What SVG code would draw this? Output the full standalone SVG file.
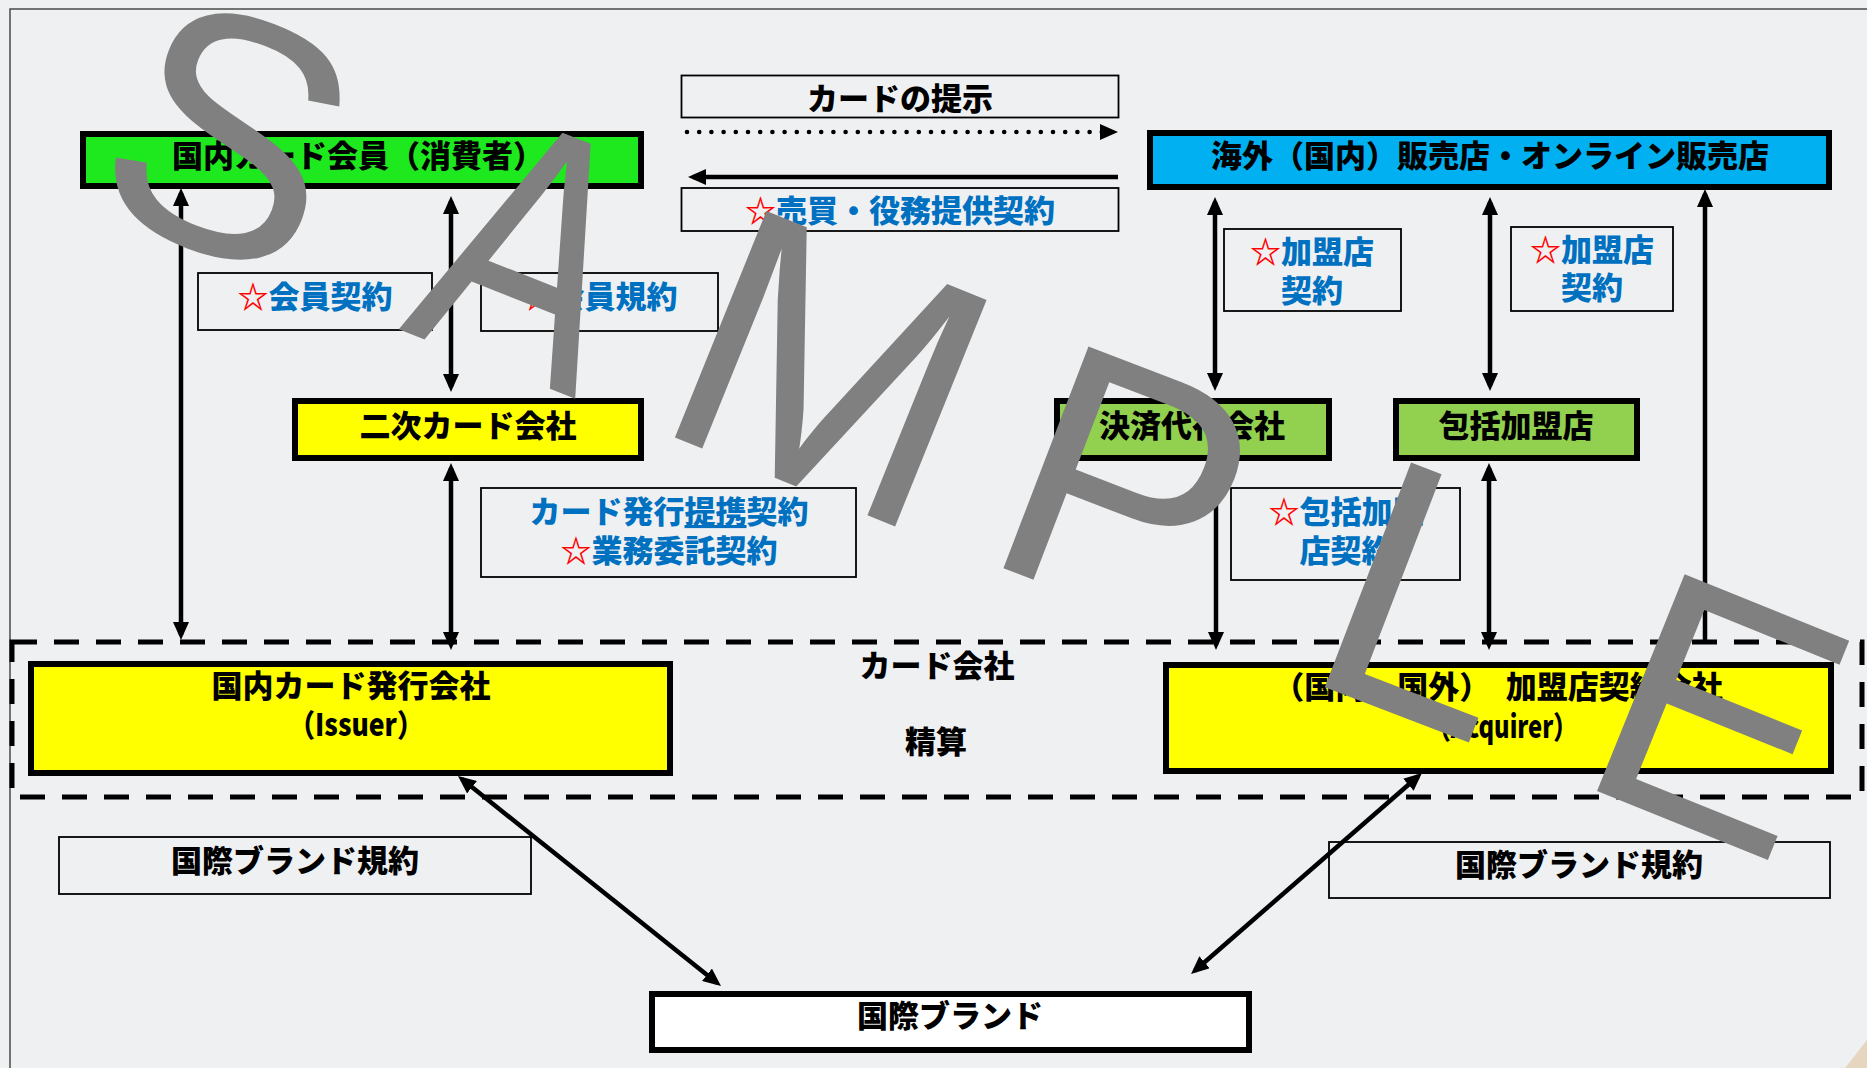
<svg xmlns="http://www.w3.org/2000/svg" width="1867" height="1068" viewBox="0 0 1867 1068">
<defs>
<style>
.t{font-family:"Noto Sans CJK JP","Noto Sans CJK SC",sans-serif;font-weight:900;font-size:31px;text-anchor:middle;fill:#000}
.b{fill:#0070C0}
.r{fill:#FF0000}
.box{stroke:#000;stroke-width:6}
.thin{fill:none;stroke:#000;stroke-width:1.8}
.ln{stroke:#000;stroke-width:4.5;fill:none}
.wm{font-family:"Liberation Sans",Arial,sans-serif;font-size:340px;fill:#808080;text-anchor:middle}
.ws{text-anchor:start}
</style>
<marker id="ah" viewBox="0 0 18 16" refX="13" refY="8" markerWidth="18" markerHeight="16" markerUnits="userSpaceOnUse" orient="auto-start-reverse">
<path d="M0,0 L18,8 L0,16 Z" fill="#000"/>
</marker>
</defs>
<rect x="0" y="0" width="1867" height="1068" fill="#EFF0F2"/>
<path d="M10,1068 V9 H1867" fill="none" stroke="#4a4a4a" stroke-width="1.5"/>
<polygon points="1845,1068 1867,1040 1867,1068" fill="#E6D5BF"/>

<g id="card-company-area">
<rect x="12" y="642" width="1850" height="155" fill="none" stroke="#000" stroke-width="5" stroke-dasharray="25 17"/>
<text class="t" x="937" y="677">カード会社</text>
<text class="t" x="936" y="753">精算</text>
</g>

<g id="consumer">
<rect class="box" x="83" y="134" width="558" height="52" fill="#1EE81E"/>
<text class="t" x="358" y="167">国内カード会員（消費者）</text>
</g>
<g id="merchant">
<rect class="box" x="1150" y="133" width="679" height="54" fill="#00B0F0"/>
<text class="t" x="1490" y="167">海外（国内）販売店・オンライン販売店</text>
</g>
<g id="secondary-card">
<rect class="box" x="295" y="401" width="346" height="57" fill="#FFFF00"/>
<text class="t" x="468" y="437">二次カード会社</text>
</g>
<g id="psp">
<rect class="box" x="1057" y="401" width="272" height="57" fill="#92D050"/>
<text class="t" x="1192" y="437">決済代行会社</text>
</g>
<g id="master-merchant">
<rect class="box" x="1396" y="401" width="241" height="57" fill="#92D050"/>
<text class="t" x="1516" y="437">包括加盟店</text>
</g>
<g id="issuer">
<rect class="box" x="31" y="664" width="639" height="109" fill="#FFFF00"/>
<text class="t" x="351" y="697">国内カード発行会社</text>
<text class="t" x="356" y="736" textLength="135" lengthAdjust="spacingAndGlyphs">（Issuer）</text>
</g>
<g id="acquirer">
<rect class="box" x="1166" y="665" width="665" height="106" fill="#FFFF00"/>
<text class="t" x="1498" y="698">（国内・国外）　加盟店契約会社</text>
<text class="t" x="1502" y="738" textLength="150" lengthAdjust="spacingAndGlyphs">（Acquirer）</text>
</g>
<g id="intl-brand">
<rect class="box" x="652" y="994" width="597" height="56" fill="#FFFFFF"/>
<text class="t" x="950" y="1027">国際ブランド</text>
</g>

<g id="label-card-present">
<rect class="thin" x="681.5" y="75.5" width="437" height="42"/>
<text class="t" x="900" y="110">カードの提示</text>
</g>
<g id="label-sales-contract">
<rect class="thin" x="681.5" y="188" width="437" height="43"/>
<text class="t" x="900" y="222"><tspan class="r">☆</tspan><tspan class="b">売買・役務提供契約</tspan></text>
</g>
<g id="label-member-contract">
<rect class="thin" x="198" y="273" width="234" height="57"/>
<text class="t" x="315" y="308"><tspan class="r">☆</tspan><tspan class="b">会員契約</tspan></text>
</g>
<g id="label-member-rules">
<rect class="thin" x="481" y="273" width="237" height="58"/>
<text class="t" x="600" y="308"><tspan class="r">☆</tspan><tspan class="b">会員規約</tspan></text>
</g>
<g id="label-merchant-contract-1">
<rect class="thin" x="1224" y="229" width="177" height="82"/>
<text class="t" x="1312" y="263"><tspan class="r">☆</tspan><tspan class="b">加盟店</tspan></text>
<text class="t b" x="1312" y="302">契約</text>
</g>
<g id="label-merchant-contract-2">
<rect class="thin" x="1511" y="227" width="162" height="84"/>
<text class="t" x="1592" y="261"><tspan class="r">☆</tspan><tspan class="b">加盟店</tspan></text>
<text class="t b" x="1592" y="299">契約</text>
</g>
<g id="label-issuing-contract">
<rect class="thin" x="481" y="488" width="375" height="89"/>
<text class="t b" x="669" y="523">カード発行<tspan text-decoration="underline">提携</tspan>契約</text>
<text class="t" x="669" y="562"><tspan class="r">☆</tspan><tspan class="b">業務委託契約</tspan></text>
</g>
<g id="label-master-contract">
<rect class="thin" x="1231" y="488" width="229" height="92"/>
<text class="t" x="1346" y="523"><tspan class="r">☆</tspan><tspan class="b">包括加盟</tspan></text>
<text class="t b" x="1346" y="562">店契約</text>
</g>
<g id="label-brand-rules-left">
<rect class="thin" x="59" y="837" width="472" height="57"/>
<text class="t" x="295" y="872">国際ブランド規約</text>
</g>
<g id="label-brand-rules-right">
<rect class="thin" x="1329" y="842" width="501" height="56"/>
<text class="t" x="1579" y="876">国際ブランド規約</text>
</g>

<g id="connectors">
<line x1="687" y1="132" x2="1113" y2="132" stroke="#000" stroke-width="4.6" stroke-linecap="round" stroke-dasharray="0 12.2" marker-end="url(#ah)"/>
<line class="ln" x1="1118" y1="177" x2="693" y2="177" stroke-width="5" marker-end="url(#ah)"/>
<line class="ln" x1="181" y1="193" x2="181" y2="635" marker-start="url(#ah)" marker-end="url(#ah)"/>
<line class="ln" x1="451" y1="201" x2="451" y2="387" marker-start="url(#ah)" marker-end="url(#ah)"/>
<line class="ln" x1="451" y1="468" x2="451" y2="645" marker-start="url(#ah)" marker-end="url(#ah)"/>
<line class="ln" x1="1215" y1="202" x2="1215" y2="386" marker-start="url(#ah)" marker-end="url(#ah)"/>
<line class="ln" x1="1490" y1="202" x2="1490" y2="386" marker-start="url(#ah)" marker-end="url(#ah)"/>
<line class="ln" x1="1216" y1="461" x2="1216" y2="645" marker-end="url(#ah)"/>
<line class="ln" x1="1489" y1="468" x2="1489" y2="645" marker-start="url(#ah)" marker-end="url(#ah)"/>
<line class="ln" x1="1705" y1="643" x2="1705" y2="194" marker-end="url(#ah)"/>
<line class="ln" x1="461.9" y1="779.1" x2="717.1" y2="982.9" marker-start="url(#ah)" marker-end="url(#ah)"/>
<line class="ln" x1="1418.2" y1="776.3" x2="1194.8" y2="970.7" marker-start="url(#ah)" marker-end="url(#ah)"/>
</g>

<g id="watermark">
<text class="wm" transform="translate(231,131) rotate(21)" y="122">S</text>
<text class="wm" transform="translate(487,364) rotate(21.5) scale(0.81,1)" style="font-size:353px">A</text>
<text class="wm" transform="translate(785,482) rotate(22)" style="font-size:355px">M</text>
<text class="wm ws" transform="translate(977,558) rotate(21)" style="font-size:345px">P</text>
<text class="wm ws" transform="translate(1298,677) rotate(21)" style="font-size:350px">L</text>
<text class="wm" transform="translate(1722,710) rotate(22)" y="122">E</text>
</g>
</svg>
